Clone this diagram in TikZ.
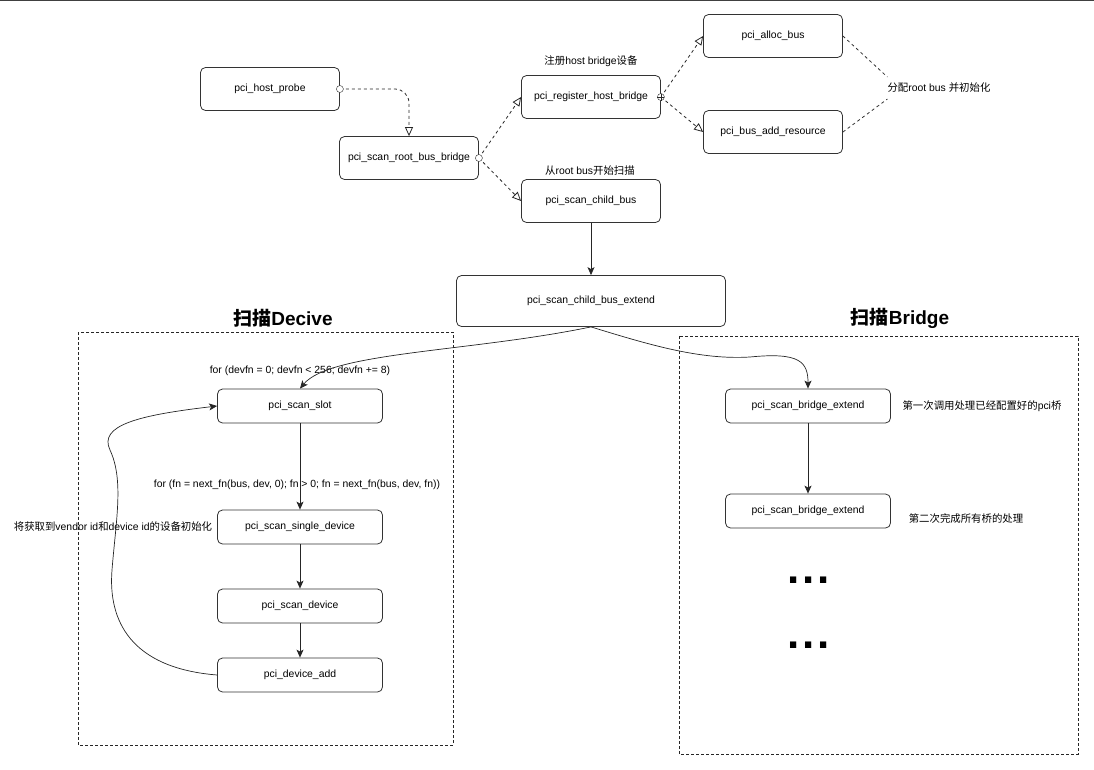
\documentclass[tikz,border=0pt]{standalone}
\usepackage{fontspec}
\setmainfont{Liberation Sans}
\newfontfamily\cjk{Noto Sans CJK SC}
\usepackage{xcolor}
\usepackage{tikz}
\usetikzlibrary{arrows.meta}
\newcommand\boxfont{\fontsize{10.4pt}{12pt}\selectfont}
\newcommand\titlefont{\fontsize{19pt}{22pt}\selectfont\bfseries}
\newcommand\dotfont{\fontsize{44pt}{44pt}\selectfont\bfseries}

\begin{document}
\begin{tikzpicture}[x=1pt, y=-1pt,
	fn/.style={draw=black!80, line width=0.8pt, rounded corners=5pt, minimum width=139pt, minimum height=43pt, font=\boxfont, inner sep=0pt},
	fnsmall/.style={fn, minimum width=165pt, minimum height=34pt},
	note/.style={font=\boxfont, inner sep=0pt},
	dep/.style={draw=black!85, line width=0.8pt, dash pattern=on 3pt off 3pt, -{Triangle[open,length=9pt,width=8pt]}},
	link/.style={draw=black!80, line width=0.8pt, dash pattern=on 3pt off 3pt},
	call/.style={draw=black!85, line width=0.7pt, -{Stealth[length=8pt,width=7pt,inset=2pt]}},
	group/.style={draw=black!85, line width=0.7pt, dash pattern=on 3pt off 2pt}]
			\useasboundingbox (0,0) rectangle (1094,769);
			\draw[black!75, line width=1pt] (0,0.5) -- (1094,0.5);

			\node[fn] (hostprobe) at (270,89) {pci\_host\_probe};
			\node[fn] (rootbus) at (409,158) {pci\_scan\_root\_bus\_bridge};
			\node[fn] (reghost) at (591,97) {pci\_register\_host\_bridge};
			\node[fn] (childbus) at (591,201) {pci\_scan\_child\_bus};
			\node[fn] (allocbus) at (773,36) {pci\_alloc\_bus};
			\node[fn] (addres) at (773,132) {pci\_bus\_add\_resource};
			\node[fn, minimum width=269pt, minimum height=51pt] (childext) at (591,301) {pci\_scan\_child\_bus\_extend};

			\node[note] (reglabel) at (591,61) {{\cjk 注册}host bridge{\cjk 设备}};
			\node[note] (childlabel) at (590,171) {{\cjk 从}root bus{\cjk 开始扫描}};
			\node[note, inner ysep=6pt] (allocnote) at (939,88) {{\cjk 分配}root bus {\cjk 并初始化}};

			\draw[dep, rounded corners=14pt] (hostprobe.east) -| (rootbus.north);
			\draw[dep] (rootbus.east) -- (reghost.west);
			\draw[dep] (rootbus.east) -- (childbus.west);
			\draw[dep] (reghost.east) -- (allocbus.west);
			\draw[dep] (reghost.east) -- (addres.west);
			\draw[link] (allocbus.east) -- (allocnote.north west);
			\draw[link] (addres.east) -- (allocnote.south west);
			\draw[black!85, fill=white] (hostprobe.east) circle (3.5pt);
			\draw[black!85, fill=white] (rootbus.east) circle (3.5pt);
			\draw[black!85, fill=white] (reghost.east) circle (3.5pt);
			\draw[black!85] (reghost.east) ++(-3.5,0) -- ++(7,0) (reghost.east) ++(0,-3.5) -- ++(0,7);

			\draw[call] (childbus) -- (childext);

			% scan device
			\draw[group] (78,332) rectangle (453,745);
			\node[font=\titlefont] (devtitle) at (283,318) {{\cjk 扫描}Decive};
			\node[fnsmall] (slot) at (300,406) {pci\_scan\_slot};
			\node[fnsmall] (single) at (300,527) {pci\_scan\_single\_device};
			\node[fnsmall] (scandev) at (300,606) {pci\_scan\_device};
			\node[fnsmall] (devadd) at (300,675) {pci\_device\_add};
			\node[note] (forslot) at (300,371) {for (devfn = 0; devfn < 256; devfn += 8)};
			\node[note] (forfn) at (297,485) {for (fn = next\_fn(bus, dev, 0); fn > 0; fn = next\_fn(bus, dev, fn))};
			\node[note] (initnote) at (113,527) {{\cjk 将获取到}vendor id{\cjk 和}device id{\cjk 的设备初始化}};

			\draw[call] (childext.south) .. controls (470,352) and (330,352) .. (slot.north);
			\draw[call] (slot) -- (single);
			\draw[call] (single) -- (scandev);
			\draw[call] (scandev) -- (devadd);
			\draw[call] (devadd.west) .. controls (130,668) and (108,620) .. (112,570) .. controls (116,520) and (124,480) .. (110,450) .. controls (98,425) and (140,415) .. (slot.west);

			% scan bridge
			\draw[group] (679,336) rectangle (1078,754);
			\node[font=\titlefont] (brtitle) at (900,318) {{\cjk 扫描}Bridge};
			\node[fnsmall] (brext1) at (808,406) {pci\_scan\_bridge\_extend};
			\node[fnsmall] (brext2) at (808,511) {pci\_scan\_bridge\_extend};
			\node[note] (firstnote) at (982,406) {{\cjk 第一次调用处理已经配置好的}pci{\cjk 桥}};
			\node[note] (secondnote) at (966,519) {{\cjk 第二次完成所有桥的处理}};
			\node[font=\dotfont, inner sep=0pt] (dotsa) at (809,580) {.\kern2.8pt.\kern2.8pt.};
			\node[font=\dotfont, inner sep=0pt] (dotsb) at (809,645) {.\kern2.8pt.\kern2.8pt.};

			\draw[call] (childext.south) .. controls (650,345) and (700,360) .. (750,357) .. controls (800,352) and (808,362) .. (brext1.north);
			\draw[call] (brext1) -- (brext2);
		\end{tikzpicture}
\end{document}
